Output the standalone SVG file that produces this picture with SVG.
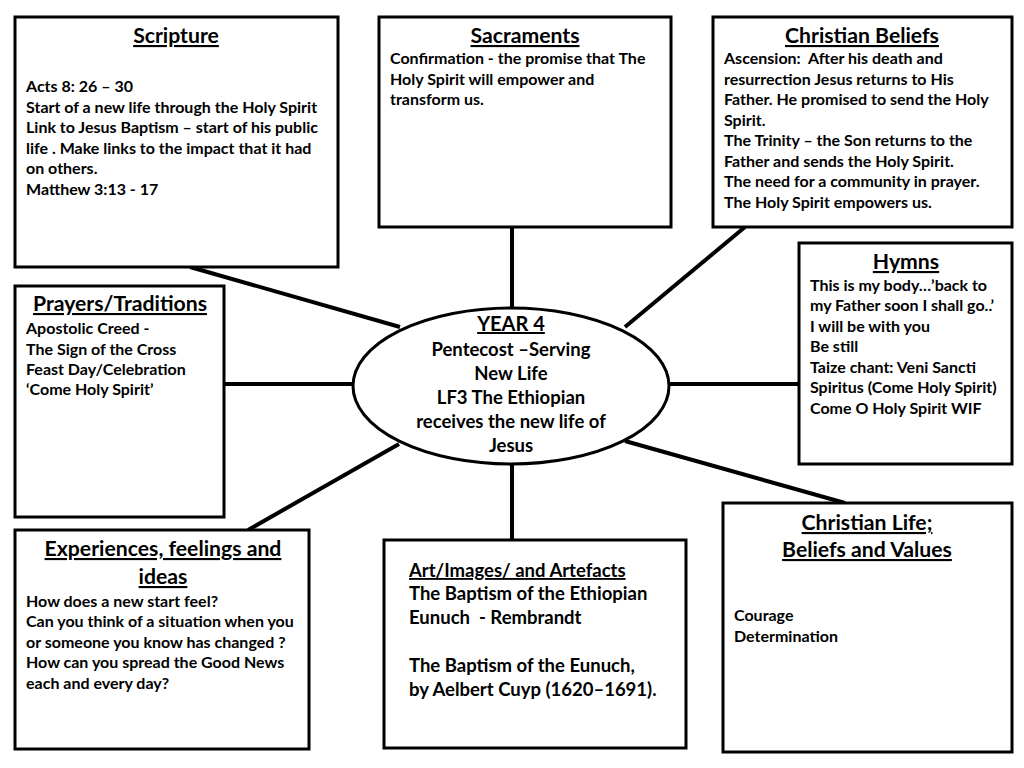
<svg xmlns="http://www.w3.org/2000/svg" width="1024" height="768" viewBox="0 0 1024 768">
<style>
.box{fill:#fff;stroke:#000;stroke-width:3}
.conn{stroke:#000;stroke-width:4;fill:none}
text{font-family:Lato,"Open Sans","Liberation Sans",sans-serif;font-weight:bold;fill:#000;white-space:pre}
.t{font-size:21.2px;text-decoration:underline;text-anchor:middle}
.b{font-size:16px}
.a{font-size:18.5px}
.c{font-size:18.5px;text-anchor:middle}
</style>
<rect width="1024" height="768" fill="#fff"/>
<g id="connectors">
<line class="conn" x1="190" y1="267" x2="400" y2="327"/>
<line class="conn" x1="512" y1="227" x2="512" y2="308"/>
<line class="conn" x1="745" y1="227" x2="625" y2="327"/>
<line class="conn" x1="668" y1="384" x2="799" y2="384"/>
<line class="conn" x1="224" y1="384" x2="354" y2="384"/>
<line class="conn" x1="248" y1="530" x2="399" y2="444"/>
<line class="conn" x1="512" y1="464" x2="512" y2="540"/>
<line class="conn" x1="625" y1="441" x2="845" y2="503"/>
</g>
<g id="scripture">
<rect class="box" x="15" y="17" width="323" height="250"/>
<text class="t" x="176" y="43">Scripture</text>
<text class="b"><tspan x="26" y="92">Acts 8: 26 – 30</tspan><tspan x="26" y="113">Start of a new life through the Holy Spirit</tspan><tspan x="26" y="133">Link to Jesus Baptism – start of his public</tspan><tspan x="26" y="154">life . Make links to the impact that it had</tspan><tspan x="26" y="174">on others.</tspan><tspan x="26" y="195">Matthew 3:13 - 17</tspan></text>
</g>
<g id="sacraments">
<rect class="box" x="379" y="17" width="292" height="210"/>
<text class="t" x="525" y="43">Sacraments</text>
<text class="b"><tspan x="390" y="64">Confirmation - the promise that The</tspan><tspan x="390" y="85">Holy Spirit will empower and</tspan><tspan x="390" y="105">transform us.</tspan></text>
</g>
<g id="christian-beliefs">
<rect class="box" x="713" y="17" width="299" height="210"/>
<text class="t" x="862" y="43">Christian Beliefs</text>
<text class="b"><tspan x="724" y="64">Ascension:  After his death and</tspan><tspan x="724" y="85">resurrection Jesus returns to His</tspan><tspan x="724" y="105">Father. He promised to send the Holy</tspan><tspan x="724" y="126">Spirit.</tspan><tspan x="724" y="146">The Trinity – the Son returns to the</tspan><tspan x="724" y="167">Father and sends the Holy Spirit.</tspan><tspan x="724" y="187">The need for a community in prayer.</tspan><tspan x="724" y="208">The Holy Spirit empowers us.</tspan></text>
</g>
<g id="hymns">
<rect class="box" x="799" y="243" width="213" height="221"/>
<text class="t" x="906" y="269">Hymns</text>
<text class="b"><tspan x="810" y="291">This is my body…’back to</tspan><tspan x="810" y="311">my Father soon I shall go..’</tspan><tspan x="810" y="332">I will be with you</tspan><tspan x="810" y="352">Be still</tspan><tspan x="810" y="373">Taize chant: Veni Sancti</tspan><tspan x="810" y="393">Spiritus (Come Holy Spirit)</tspan><tspan x="810" y="414">Come O Holy Spirit WIF</tspan></text>
</g>
<g id="prayers">
<rect class="box" x="15" y="286" width="209" height="231"/>
<text class="t" x="120" y="311">Prayers/Traditions</text>
<text class="b"><tspan x="26" y="334">Apostolic Creed -</tspan><tspan x="26" y="355">The Sign of the Cross</tspan><tspan x="26" y="375">Feast Day/Celebration</tspan><tspan x="26" y="395">‘Come Holy Spirit’</tspan></text>
</g>
<g id="experiences">
<rect class="box" x="15" y="530" width="294" height="219"/>
<text class="t" x="163" y="556">Experiences, feelings and</text>
<text class="t" x="163" y="584">ideas</text>
<text class="b"><tspan x="26" y="607">How does a new start feel?</tspan><tspan x="26" y="627">Can you think of a situation when you</tspan><tspan x="26" y="648">or someone you know has changed ?</tspan><tspan x="26" y="668">How can you spread the Good News</tspan><tspan x="26" y="689">each and every day?</tspan></text>
</g>
<g id="art">
<rect class="box" x="384" y="540" width="302" height="208"/>
<text class="a" x="409" y="577" text-decoration="underline">Art/Images/ and Artefacts</text>
<text class="a"><tspan x="409" y="600">The Baptism of the Ethiopian</tspan><tspan x="409" y="624">Eunuch  - Rembrandt</tspan><tspan x="409" y="672">The Baptism of the Eunuch,</tspan><tspan x="409" y="696">by Aelbert Cuyp (1620–1691).</tspan></text>
</g>
<g id="christian-life">
<rect class="box" x="723" y="503" width="289" height="249"/>
<text class="t" x="867" y="530">Christian Life;</text>
<text class="t" x="867" y="557">Beliefs and Values</text>
<text class="b"><tspan x="734" y="621">Courage</tspan><tspan x="734" y="642">Determination</tspan></text>
</g>
<g id="center">
<ellipse cx="511" cy="386" rx="158" ry="78" fill="#fff" stroke="#000" stroke-width="3"/>
<text class="c" x="511" y="331" style="font-size:20px;text-decoration:underline">YEAR 4</text>
<text class="c"><tspan x="511" y="356">Pentecost –Serving</tspan><tspan x="511" y="380">New Life</tspan><tspan x="511" y="404">LF3 The Ethiopian</tspan><tspan x="511" y="428">receives the new life of</tspan><tspan x="511" y="452">Jesus</tspan></text>
</g>
</svg>
